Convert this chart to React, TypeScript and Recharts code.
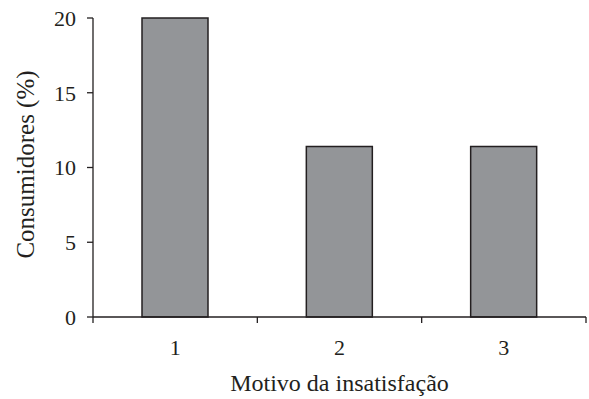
import React from 'react';
import { BarChart, Bar, XAxis, YAxis, Label } from 'recharts';

const categories = [1, 2, 3];
const consumers = [20, 11.4, 11.4];
const yTicks = [0, 5, 10, 15, 20];
const xTicks = [0.5, 1, 1.5, 2, 2.5, 3, 3.5];

const xTitle = 'Motivo da insatisfação';
const yTitle = 'Consumidores (%)';

const data = categories.map((c, i) => ({ motivo: c, value: consumers[i] }));

const FONT = '"Liberation Serif", "DejaVu Serif", serif';
const INK = '#231f20';

const XTick = (props: any) => {
  const { x, y, payload } = props;
  const v = payload.value as number;
  if (Math.round(v) !== v) {
    return <line x1={x} y1={y} x2={x} y2={y + 6} stroke={INK} strokeWidth={1.3} />;
  }
  return (
    <text x={x} y={y + 38} textAnchor="middle" fill={INK} fontFamily={FONT} fontSize={22}>
      {v}
    </text>
  );
};

const XTitle = (props: any) => {
  const vb = props.viewBox;
  const cx = vb.x + vb.width / 2;
  return (
    <text x={cx} y={vb.y + 74} textAnchor="middle" fill={INK} fontFamily={FONT} fontSize={24}>
      {xTitle}
    </text>
  );
};

const YTitle = (props: any) => {
  const vb = props.viewBox;
  const cy = vb.y + vb.height / 2 - 3;
  const x = 34;
  return (
    <text x={x} y={cy} transform={`rotate(-90, ${x}, ${cy})`} textAnchor="middle" fill={INK} fontFamily={FONT} fontSize={25}>
      {yTitle}
    </text>
  );
};

export default function App() {
  return (
    <div style={{ position: 'absolute', left: 0, top: 0, background: '#fff' }}>
      <BarChart width={589} height={399} data={data} margin={{ top: 18, right: 3, bottom: 0, left: 0 }}>
        <XAxis
          dataKey="motivo"
          type="number"
          domain={[0.5, 3.5]}
          ticks={xTicks}
          interval={0}
          tickLine={false}
          tickSize={0}
          tickMargin={0}
          tick={<XTick />}
          axisLine={{ stroke: INK, strokeWidth: 1.3 }}
          height={82}
        >
          <Label content={<XTitle />} />
        </XAxis>
        <YAxis
          type="number"
          domain={[0, 20]}
          ticks={yTicks}
          width={93}
          tickSize={6}
          tickMargin={11}
          tickLine={{ stroke: INK, strokeWidth: 1.3 }}
          axisLine={{ stroke: INK, strokeWidth: 1.3 }}
          tick={{ fill: INK, fontFamily: FONT, fontSize: 22 }}
        >
          <Label content={<YTitle />} />
        </YAxis>
        <Bar dataKey="value" barSize={66} fill="#939598" stroke={INK} strokeWidth={1.5} isAnimationActive={false} />
      </BarChart>
    </div>
  );
}
